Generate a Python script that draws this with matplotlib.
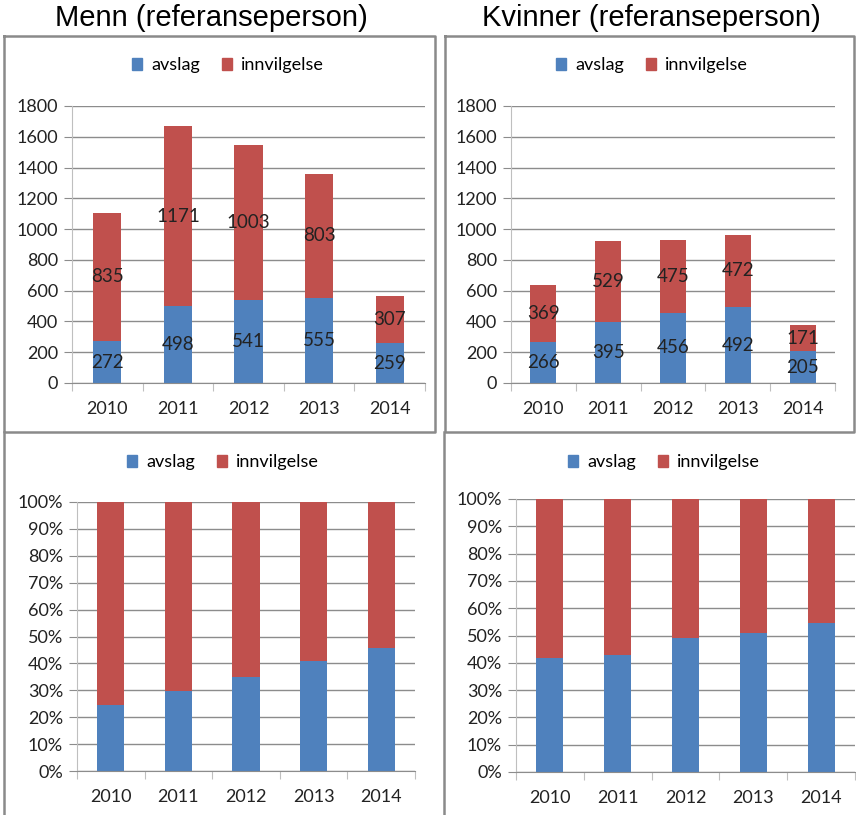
import numpy as np
import matplotlib
matplotlib.use('Agg')
import matplotlib.pyplot as plt
from matplotlib.patches import Patch
from matplotlib.lines import Line2D

# data
years = ['2010', '2011', '2012', '2013', '2014']
menn_avslag = [272, 498, 541, 555, 259]
menn_innvilgelse = [835, 1171, 1003, 803, 307]
kvinner_avslag = [266, 395, 456, 492, 205]
kvinner_innvilgelse = [369, 529, 475, 472, 171]

BLUE = '#4F81BD'
RED = '#C0504D'
GRID = '#8c8c8c'
SPINE = '#bfbfbf'

W, H = 856, 815
plt.rcParams['font.family'] = ['Lato', 'DejaVu Sans']

fig = plt.figure(figsize=(W / 100, H / 100), dpi=100)


def box(x0, y0, x1, y1):
    # pixel box (top-left origin) -> figure fraction rect
    return [x0 / W, 1 - y1 / H, (x1 - x0) / W, (y1 - y0) / H]


def fline(xs, ys):
    fig.add_artist(Line2D([x / W for x in xs], [1 - y / H for y in ys],
                          color='#8a8a8a', lw=1.8, transform=fig.transFigure))


# panel borders
fline([4, 435, 435, 4, 4], [36, 36, 432, 432, 36])
fline([445, 854, 854, 445, 445], [36, 36, 432, 432, 36])
fline([4, 4], [432, 815])
fline([444, 444], [432, 815])

fig.text(211 / W, 1 - 18 / H, 'Menn (referanseperson)', ha='center', va='center',
         fontsize=21, family='Liberation Sans')
fig.text(651 / W, 1 - 18 / H, 'Kvinner (referanseperson)', ha='center', va='center',
         fontsize=21, family='Liberation Sans')


def style(ax, ymax, step):
    x = np.arange(len(years))
    ax.set_xlim(-0.5, len(years) - 0.5)
    ax.set_ylim(0, ymax)
    ax.set_yticks(np.arange(0, ymax + step / 2, step))
    ax.yaxis.grid(True, color=GRID, lw=1)
    ax.set_axisbelow(True)
    for s in ['top', 'right']:
        ax.spines[s].set_visible(False)
    ax.spines['left'].set_color(SPINE)
    ax.spines['bottom'].set_color(GRID)
    ax.set_xticks(np.arange(-0.5, len(years)))
    ax.set_xticklabels([])
    ax.set_xticks(x, minor=True)
    ax.set_xticklabels(years, minor=True)
    ax.tick_params(axis='x', which='major', length=6, color=SPINE)
    ax.tick_params(axis='x', which='minor', length=0, pad=13, labelsize=13, labelcolor='#222222')
    ax.tick_params(axis='y', length=6, color=GRID, labelsize=13, labelcolor='#222222', pad=4)


def legend(ax, cx, cy):
    handles = [Patch(color=BLUE, label='avslag'), Patch(color=RED, label='innvilgelse')]
    ax.legend(handles=handles, ncol=2, frameon=False, loc='center',
              bbox_to_anchor=(cx / W, 1 - cy / H), bbox_transform=fig.transFigure,
              fontsize=13, handlelength=0.55, handleheight=0.65, handletextpad=0.5,
              columnspacing=1.2)


def counts_panel(rect, avslag, innv, lx, ly):
    ax = fig.add_axes(rect)
    x = np.arange(len(years))
    b1 = ax.bar(x, avslag, width=0.4, color=BLUE)
    b2 = ax.bar(x, innv, width=0.4, bottom=avslag, color=RED)
    ax.bar_label(b1, label_type='center', fontsize=13.5, color='#222222')
    ax.bar_label(b2, label_type='center', fontsize=13.5, color='#222222')
    style(ax, 1800, 200)
    legend(ax, lx, ly)
    return ax


def share_panel(rect, avslag, innv, lx, ly):
    ax = fig.add_axes(rect)
    x = np.arange(len(years))
    a = np.array(avslag, float)
    i = np.array(innv, float)
    tot = a + i
    ax.bar(x, a / tot, width=0.4, color=BLUE)
    ax.bar(x, i / tot, width=0.4, bottom=a / tot, color=RED)
    style(ax, 1.0, 0.1)
    ax.set_yticklabels([f'{v * 100:.0f}%' for v in ax.get_yticks()])
    legend(ax, lx, ly)
    return ax


counts_panel(box(72, 106, 425, 383), menn_avslag, menn_innvilgelse, 228, 65)
counts_panel(box(511, 106, 835, 383), kvinner_avslag, kvinner_innvilgelse, 652, 65)
share_panel(box(77, 502, 415, 771), menn_avslag, menn_innvilgelse, 223, 462)
share_panel(box(516, 499, 855, 772), kvinner_avslag, kvinner_innvilgelse, 664, 462)

fig.savefig('out.png', dpi=100)
